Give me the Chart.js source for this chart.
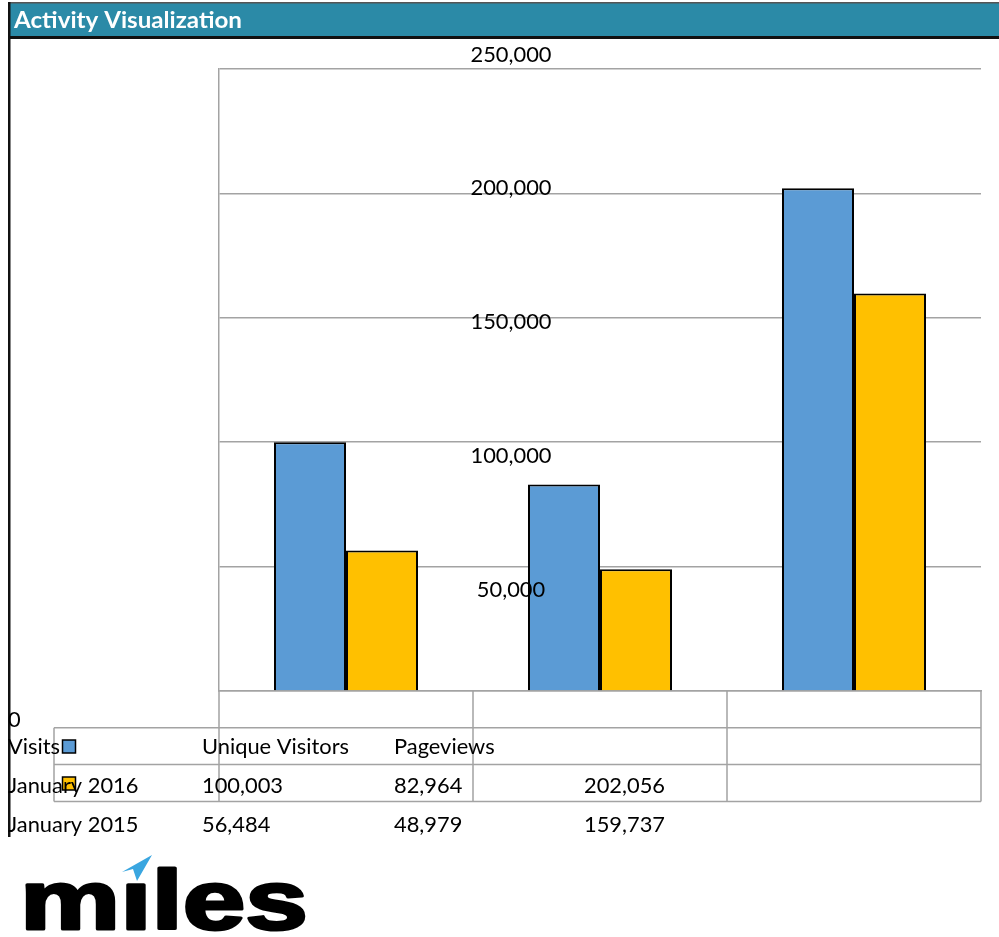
<!DOCTYPE html>
<html><head><meta charset="utf-8">
<script src="https://cdn.jsdelivr.net/npm/chart.js@4/dist/chart.umd.min.js"></script>
<style>html,body{margin:0;padding:0;background:#fff;overflow:hidden}canvas{display:block}</style>
</head><body>
<canvas id="c" width="999" height="937"></canvas>
<script>
// ---- data ----
const chartTitle = 'Activity Visualization';
const categories = ['Visits', 'Unique Visitors', 'Pageviews'];
const seriesNames = ['January 2016', 'January 2015'];
const jan2016 = [100003, 82964, 202056];
const jan2015 = [56484, 48979, 159737];
const yTickValues = [0, 50000, 100000, 150000, 200000, 250000];
const seriesColors = ['#5b9bd5', '#ffc000'];
const logoText = 'm\u0131les';

const fmt = v => v.toLocaleString('en-US');
const FAMILY = 'Lato, "Open Sans", sans-serif';
const GRID = '#a3a3a3';

// draw text at a given font size, squeezed horizontally by factor k
function squeezedText(ctx, text, x, y, align, k) {
  const w = ctx.measureText(text).width * k;
  let x0 = x;
  if (align === 'center') x0 = x - w / 2;
  else if (align === 'right') x0 = x - w;
  ctx.save();
  ctx.translate(x0, y);
  ctx.scale(k, 1);
  ctx.textAlign = 'left';
  ctx.fillText(text, 0, 0);
  ctx.restore();
}

const decor = {
  id: 'decor',
  afterDraw(chart) {
    const ctx = chart.ctx, area = chart.chartArea;
    const ys = chart.scales.y, xs = chart.scales.x;
    ctx.save();
    // title bar
    ctx.fillStyle = '#2b8aa7';
    ctx.fillRect(9, 3, 990, 34);
    ctx.fillStyle = '#111';
    ctx.fillRect(8, 36, 991, 3);
    ctx.fillStyle = '#555';
    ctx.fillRect(8, 2, 991, 1.5);
    ctx.fillStyle = '#111';
    ctx.fillRect(8, 2, 2.5, 835);
    ctx.font = 'bold 23px ' + FAMILY;
    ctx.fillStyle = '#fff';
    ctx.textBaseline = 'middle';
    const kt = 228 / ctx.measureText(chartTitle).width;
    squeezedText(ctx, chartTitle, 14, 21, 'left', kt);

    // data table grid
    const rowTop = area.bottom, rowH = 36.8;
    const half = (xs.getPixelForValue(1) - xs.getPixelForValue(0)) / 2;
    ctx.strokeStyle = GRID;
    ctx.lineWidth = 1.5;
    ctx.beginPath();
    for (let r = 1; r <= 3; r++) {
      const y = rowTop + r * rowH;
      ctx.moveTo(54, y); ctx.lineTo(area.right, y);
    }
    ctx.moveTo(54, rowTop + rowH); ctx.lineTo(54, rowTop + 3 * rowH);
    for (let i = 0; i < categories.length; i++) {
      const x = xs.getPixelForValue(i) - half;
      ctx.moveTo(x, rowTop); ctx.lineTo(x, rowTop + 3 * rowH);
    }
    ctx.moveTo(area.right, rowTop); ctx.lineTo(area.right, rowTop + 3 * rowH);
    ctx.stroke();

    // legend keys (under the text)
    const keyY = [740, 777];
    seriesColors.forEach((col, r) => {
      ctx.fillStyle = col;
      ctx.fillRect(62.5, keyY[r], 13, 13);
      ctx.strokeStyle = '#000';
      ctx.lineWidth = 1.5;
      ctx.strokeRect(62.5, keyY[r], 13, 13);
    });

    // body font
    ctx.font = '21px ' + FAMILY;
    const kb = 147 / ctx.measureText(categories[1]).width;
    ctx.fillStyle = '#000';

    // y tick labels (displaced as in the reference)
    ys.ticks.forEach(t => {
      const v = t.value;
      const pix = ys.getPixelForValue(v);
      if (v === 0) {
        squeezedText(ctx, fmt(v), 8, 720, 'left', kb);
      } else {
        squeezedText(ctx, fmt(v), 511, area.top - 14 + (pix - area.top) * 1.075, 'center', kb);
      }
    });

    // table texts
    const colX = [8, 202, 394, 584];
    categories.forEach((c, i) => squeezedText(ctx, c, colX[i], 747, 'left', kb));
    const rowsY = [786, 825];
    const series = [jan2016, jan2015];
    seriesNames.forEach((n, r) => {
      squeezedText(ctx, n, colX[0], rowsY[r], 'left', kb);
      series[r].forEach((v, i) => squeezedText(ctx, fmt(v), colX[i + 1], rowsY[r], 'left', kb));
    });

    // logo
    ctx.save();
    ctx.font = 'bold 84px "Liberation Sans", Arial, sans-serif';
    ctx.textBaseline = 'alphabetic';
    const lw = ctx.measureText(logoText).width;
    ctx.translate(20, 929);
    ctx.scale(288 / lw, 1);
    ctx.fillStyle = '#000';
    ctx.strokeStyle = '#000';
    ctx.lineWidth = 3;
    ctx.lineJoin = 'round';
    ctx.fillText(logoText, 0, 0);
    ctx.strokeText(logoText, 0, 0);
    ctx.restore();
    ctx.fillStyle = '#3aa6e0';
    ctx.beginPath();
    ctx.moveTo(122, 872); ctx.lineTo(152, 855); ctx.lineTo(137, 881); ctx.lineTo(133, 869);
    ctx.closePath(); ctx.fill();
    ctx.restore();
  }
};

new Chart(document.getElementById('c'), {
  type: 'bar',
  data: {
    labels: categories,
    datasets: [
      { label: seriesNames[0], data: jan2016, backgroundColor: seriesColors[0], borderColor: '#000', borderWidth: 2 },
      { label: seriesNames[1], data: jan2015, backgroundColor: seriesColors[1], borderColor: '#000', borderWidth: 2 }
    ]
  },
  options: {
    responsive: false,
    animation: false,
    devicePixelRatio: 1,
    layout: { padding: { left: 219, top: 69, right: 18, bottom: 246 } },
    datasets: { bar: { categoryPercentage: 0.567, barPercentage: 1 } },
    plugins: { legend: { display: false }, tooltip: { enabled: false }, title: { display: false } },
    scales: {
      x: {
        grid: { display: false, drawTicks: false },
        ticks: { display: false },
        border: { display: true, color: GRID, width: 1.5 }
      },
      y: {
        min: 0, max: 250000,
        afterBuildTicks: s => { s.ticks = yTickValues.map(v => ({ value: v })); },
        grid: { color: GRID, lineWidth: 1.5, drawTicks: false },
        ticks: { display: false },
        border: { display: true, color: GRID, width: 1.5 }
      }
    }
  },
  plugins: [decor]
});
</script>
</body></html>
